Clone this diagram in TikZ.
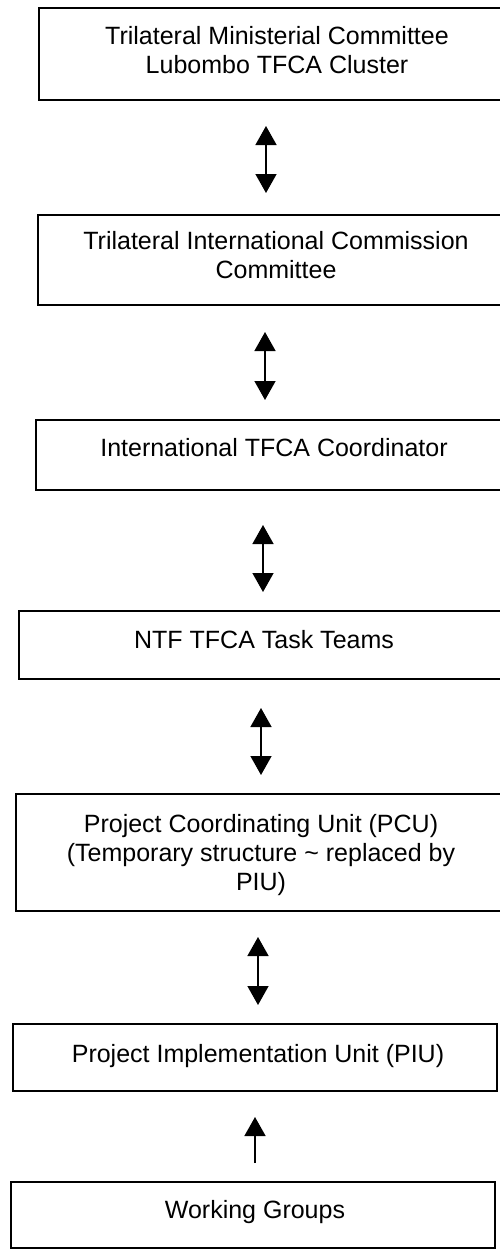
\documentclass[tikz,border=0pt]{standalone}
\usepackage{fontspec}
\setmainfont{Liberation Sans}
\usetikzlibrary{arrows.meta}
\tikzset{
  box/.style={draw=black, line width=1.6pt, inner sep=0pt, rectangle},
  txt/.style={align=center, inner sep=0pt, anchor=base, font=\fontsize{25}{29}\selectfont},
  tipA/.tip={Triangle[width=21pt,length=19pt]},
  dbl/.style={line width=1.5pt, tipA-tipA},
  sgl/.style={line width=1.5pt, -tipA},
}
\begin{document}
\begin{tikzpicture}[x=1pt,y=-1pt]
\useasboundingbox (0,0) rectangle (499,1253);
% boxes
\node[box, minimum width=476pt, minimum height=92pt] (b1) at (277,54) {};
\node[box, minimum width=476pt, minimum height=90pt] (b2) at (276,260) {};
\node[box, minimum width=476pt, minimum height=70pt] (b3) at (274,455) {};
\node[box, minimum width=490pt, minimum height=68pt] (b4) at (264,645) {};
\node[box, minimum width=490pt, minimum height=117pt] (b5) at (261,852.5) {};
\node[box, minimum width=484pt, minimum height=67pt] (b6) at (255,1057.5) {};
\node[box, minimum width=484pt, minimum height=66pt] (b7) at (253,1215) {};
% texts (base = baseline of last line)
\node[txt] (t1) at (277,73) {Trilateral Ministerial Committee\\Lubombo TFCA Cluster};
\node[txt] (t2) at (276,278) {Trilateral International Commission\\Committee};
\node[txt] (t3) at (274,456) {International TFCA Coordinator};
\node[txt] (t4) at (264,648) {NTF TFCA Task Teams};
\node[txt] (t5) at (261,890) {Project Coordinating Unit (PCU)\\(Temporary structure \textasciitilde{} replaced by\\PIU)};
\node[txt] (t6) at (258,1062) {Project Implementation Unit (PIU)};
\node[txt] (t7) at (255,1218) {Working Groups};
% arrow ends
\coordinate (a1s) at (266,126); \coordinate (a1e) at (266,193);
\coordinate (a2s) at (265,332); \coordinate (a2e) at (265,400);
\coordinate (a3s) at (263,525); \coordinate (a3e) at (263,592);
\coordinate (a4s) at (261,708); \coordinate (a4e) at (261,775);
\coordinate (a5s) at (258,937); \coordinate (a5e) at (258,1005);
\coordinate (a6s) at (255,1163); \coordinate (a6e) at (255,1117);
\draw[dbl] (a1s) -- (a1e);
\draw[dbl] (a2s) -- (a2e);
\draw[dbl] (a3s) -- (a3e);
\draw[dbl] (a4s) -- (a4e);
\draw[dbl] (a5s) -- (a5e);
\draw[sgl] (a6s) -- (a6e);
\end{tikzpicture}
\end{document}
